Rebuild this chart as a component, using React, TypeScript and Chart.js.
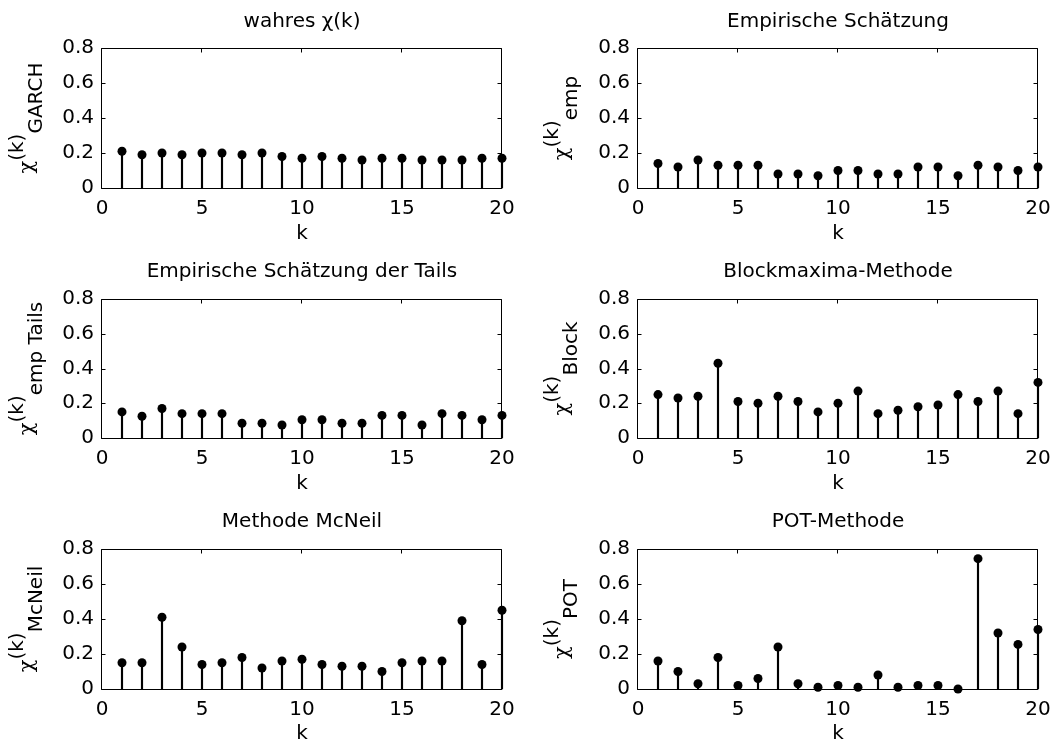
import React, { useEffect, useRef } from 'react';
import { Chart, registerables } from 'chart.js';

Chart.register(...registerables);

// ---------- data ----------
const kValues = [1, 2, 3, 4, 5, 6, 7, 8, 9, 10, 11, 12, 13, 14, 15, 16, 17, 18, 19, 20];

const xTickValues = [0, 5, 10, 15, 20];
const xTickLabels = ['0', '5', '10', '15', '20'];
const yTickValues = [0, 0.2, 0.4, 0.6, 0.8];
const yTickLabels = ['0', '0.2', '0.4', '0.6', '0.8'];

const chiGarch = [0.21, 0.19, 0.2, 0.19, 0.2, 0.2, 0.19, 0.2, 0.18, 0.17, 0.18, 0.17, 0.16, 0.17, 0.17, 0.16, 0.16, 0.16, 0.17, 0.17];
const chiEmp = [0.14, 0.12, 0.16, 0.13, 0.13, 0.13, 0.08, 0.08, 0.07, 0.1, 0.1, 0.08, 0.08, 0.12, 0.12, 0.07, 0.13, 0.12, 0.1, 0.12];
const chiEmpTails = [0.15, 0.125, 0.17, 0.14, 0.14, 0.14, 0.085, 0.085, 0.075, 0.105, 0.105, 0.085, 0.085, 0.13, 0.13, 0.075, 0.14, 0.13, 0.105, 0.13];
const chiBlock = [0.25, 0.23, 0.24, 0.43, 0.21, 0.2, 0.24, 0.21, 0.15, 0.2, 0.27, 0.14, 0.16, 0.18, 0.19, 0.25, 0.21, 0.27, 0.14, 0.32];
const chiMcNeil = [0.15, 0.15, 0.41, 0.24, 0.14, 0.15, 0.18, 0.12, 0.16, 0.17, 0.14, 0.13, 0.13, 0.1, 0.15, 0.16, 0.16, 0.39, 0.14, 0.45];
const chiPOT = [0.16, 0.1, 0.03, 0.18, 0.02, 0.06, 0.24, 0.03, 0.01, 0.02, 0.01, 0.08, 0.01, 0.02, 0.02, 0.0, 0.745, 0.32, 0.255, 0.34];

const panelTitles = [
  'wahres χ(k)',
  'Empirische Schätzung',
  'Empirische Schätzung der Tails',
  'Blockmaxima-Methode',
  'Methode McNeil',
  'POT-Methode',
];
const panelSubscripts = ['GARCH', 'emp', 'emp Tails', 'Block', 'McNeil', 'POT'];
const panelSeries = [chiGarch, chiEmp, chiEmpTails, chiBlock, chiMcNeil, chiPOT];
const xAxisLabel = 'k';

// ---------- layout (page pixels) ----------
const FONT = 'DejaVu Sans';
const FS = 20;
const INK = '#000';

const rows = [
  { top: 0, h: 250, areaTop: 48, areaBottom: 188 },
  { top: 250, h: 250, areaTop: 49, areaBottom: 188 },
  { top: 500, h: 251, areaTop: 49, areaBottom: 189 },
];
const cols = [
  { left: 0, w: 530, areaLeft: 102, areaRight: 502, labelX: 33 },
  { left: 530, w: 523, areaLeft: 108, areaRight: 508, labelX: 38 },
];

function makeFramePlugin() {
  return {
    id: 'matlabFrame',
    afterDatasetsDraw(chart: any) {
      const { ctx, chartArea } = chart;
      const xs = chart.scales.x;
      const ys = chart.scales.y;
      const L = Math.round(chartArea.left) - 0.5;
      const R = Math.round(chartArea.right) - 0.5;
      const T = Math.round(chartArea.top) + 0.5;
      const B = Math.round(chartArea.bottom) + 0.5;
      const tl = 4;
      ctx.save();
      ctx.strokeStyle = INK;
      ctx.lineWidth = 1;
      ctx.beginPath();
      ctx.rect(L, T, R - L, B - T);
      xTickValues.forEach((v) => {
        const px = Math.round(xs.getPixelForValue(v)) - 0.5;
        ctx.moveTo(px, T);
        ctx.lineTo(px, T + tl);
        ctx.moveTo(px, B);
        ctx.lineTo(px, B - tl);
      });
      yTickValues.forEach((v) => {
        const py = Math.round(ys.getPixelForValue(v)) + 0.5;
        ctx.moveTo(L, py);
        ctx.lineTo(L + tl, py);
        ctx.moveTo(R, py);
        ctx.lineTo(R - tl, py);
      });
      ctx.stroke();
      ctx.restore();
    },
  };
}

function makeYLabelPlugin(sub: string, labelX: number) {
  return {
    id: 'chiLabel',
    afterDraw(chart: any) {
      const { ctx, chartArea } = chart;
      const cy = (chartArea.top + chartArea.bottom) / 2;
      const parts = [
        { t: 'χ', dv: 0, font: `${FS + 1}px "DejaVu Serif"` },
        { t: '(k)', dv: -10, font: `${FS}px "${FONT}"` },
        { t: sub, dv: 8.5, font: `${FS}px "${FONT}"` },
      ];
      ctx.save();
      ctx.fillStyle = INK;
      ctx.textBaseline = 'alphabetic';
      ctx.textAlign = 'left';
      const widths = parts.map((p) => {
        ctx.font = p.font;
        return ctx.measureText(p.t).width;
      });
      const total = widths.reduce((a, b) => a + b, 0);
      ctx.translate(labelX, cy);
      ctx.rotate(-Math.PI / 2);
      let u = -total / 2;
      parts.forEach((p, i) => {
        ctx.font = p.font;
        ctx.fillText(p.t, u, p.dv);
        u += widths[i];
      });
      ctx.restore();
    },
  };
}

function Panel({ index }: { index: number }) {
  const ref = useRef<HTMLCanvasElement | null>(null);
  const row = rows[Math.floor(index / 2)];
  const col = cols[index % 2];

  useEffect(() => {
    if (!ref.current) return;
    const values = panelSeries[index];
    const pts = kValues.map((k, i) => ({ x: k, y: values[i] }));
    const font = { family: FONT, size: FS, lineHeight: 1.2 };
    const xTickGap = 2 * (209 - row.areaBottom + (row.areaBottom - 188));
    const titlePadTop = 10;
    const chart = new Chart(ref.current, {
      type: 'bar',
      data: {
        datasets: [
          {
            type: 'scatter',
            data: pts,
            pointRadius: 4.5,
            pointBorderWidth: 0,
            backgroundColor: INK,
            borderColor: INK,
            clip: false,
            order: 0,
          } as any,
          {
            type: 'bar',
            data: pts,
            backgroundColor: INK,
            barThickness: 1.5,
            clip: false,
            order: 1,
          } as any,
        ],
      },
      options: {
        animation: false,
        responsive: false,
        maintainAspectRatio: false,
        devicePixelRatio: 1,
        events: [],
        layout: { padding: { left: 0, right: col.w - col.areaRight, top: 0, bottom: 0 } },
        plugins: {
          legend: { display: false },
          tooltip: { enabled: false },
          title: {
            display: true,
            text: panelTitles[index],
            color: INK,
            font: { ...font, weight: 'normal' },
            fullSize: false,
            padding: { top: titlePadTop, bottom: row.areaTop - titlePadTop - FS * 1.2 },
          },
        },
        scales: {
          x: {
            type: 'linear',
            min: 0,
            max: 20,
            offset: false,
            grid: { display: false, drawTicks: false },
            border: { display: false },
            afterBuildTicks: (s: any) => {
              s.ticks = xTickValues.map((v) => ({ value: v }));
            },
            afterFit: (s: any) => {
              s.height = row.h - row.areaBottom;
            },
            ticks: {
              autoSkip: false,
              maxRotation: 0,
              padding: 0,
              color: INK,
              font: { family: FONT, size: FS, lineHeight: `${xTickGap}px` },
              callback: (v: any) => xTickLabels[xTickValues.indexOf(Number(v))],
            },
            title: {
              display: true,
              text: xAxisLabel,
              color: INK,
              font,
              padding: { top: 0, bottom: row.h - 234 - FS * 0.6 },
            },
          },
          y: {
            type: 'linear',
            min: 0,
            max: 0.8,
            grid: { display: false, drawTicks: false },
            border: { display: false },
            afterBuildTicks: (s: any) => {
              s.ticks = yTickValues.map((v) => ({ value: v }));
            },
            afterFit: (s: any) => {
              s.width = col.areaLeft;
            },
            ticks: {
              padding: 8,
              color: INK,
              font,
              callback: (v: any) => yTickLabels[yTickValues.indexOf(Number(v))],
            },
          },
        },
      } as any,
      plugins: [makeFramePlugin(), makeYLabelPlugin(panelSubscripts[index], col.labelX)],
    });
    return () => chart.destroy();
  }, [index]);

  return (
    <div style={{ position: 'absolute', left: col.left, top: row.top, width: col.w, height: row.h }}>
      <canvas ref={ref} width={col.w} height={row.h} style={{ display: 'block', width: col.w, height: row.h }} />
    </div>
  );
}

export default function App() {
  return (
    <div style={{ position: 'absolute', left: 0, top: 0, width: 1053, height: 751, background: '#fff', overflow: 'hidden' }}>
      {[0, 1, 2, 3, 4, 5].map((i) => (
        <Panel key={i} index={i} />
      ))}
    </div>
  );
}
